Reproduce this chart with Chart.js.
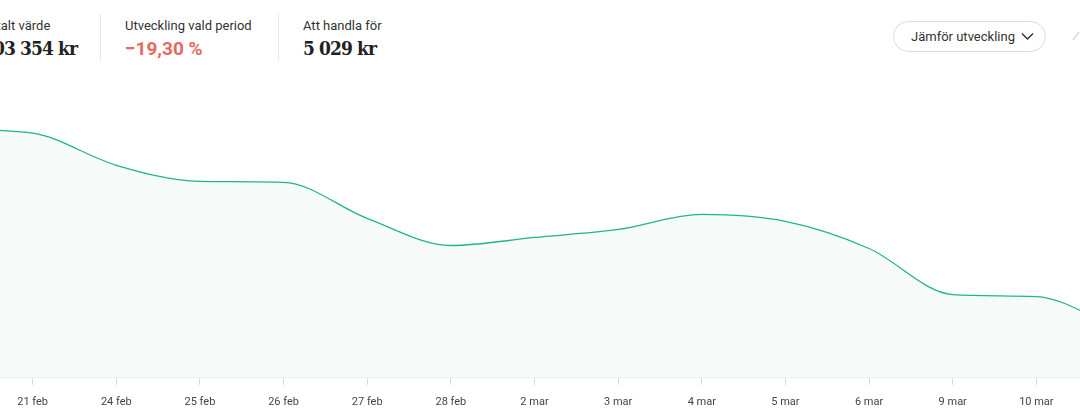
<!DOCTYPE html>
<html>
<head>
<meta charset="utf-8">
<script src="https://cdn.jsdelivr.net/npm/chart.js@4.4.1/dist/chart.umd.min.js"></script>
<style>
  body { margin: 0; width: 1080px; height: 415px; overflow: hidden; background: #fff; font-family: Roboto, sans-serif; position: relative; }
  .stat { position: absolute; top: 18px; }
  .stat .lbl { font-size: 13px; color: #333; line-height: 16px; }
  .stat .val { font-family: "DejaVu Serif Condensed", "DejaVu Serif", serif; font-stretch: condensed; font-weight: bold; font-size: 19px; color: #222; margin-top: 3px; letter-spacing: -0.9px; }
  .stat .neg { color: #e5695e; font-family: Roboto, sans-serif; font-stretch: normal; font-size: 19px; letter-spacing: 0; }
  .sep { position: absolute; top: 14px; width: 1px; height: 46px; background: #e6e6e6; }
  .btn { position: absolute; left: 893px; top: 21px; width: 153px; height: 31px; border: 1px solid #dcdcdc; border-radius: 16px; box-sizing: border-box; font-size: 13px; color: #333; line-height: 29px; padding-left: 17px; }
  .btn svg { position: absolute; right: 11px; top: 10px; }
  .wrap { position: absolute; left: -81px; top: 80px; width: 1231px; height: 340px; }
</style>
</head>
<body>
<div class="stat" style="left:-18px"><div class="lbl">Totalt värde</div><div class="val">103 354 kr</div></div>
<div class="sep" style="left:100px"></div>
<div class="stat" style="left:125px"><div class="lbl">Utveckling vald period</div><div class="val neg">−19,30 %</div></div>
<div class="sep" style="left:278px"></div>
<div class="stat" style="left:303px"><div class="lbl">Att handla för</div><div class="val">5 029 kr</div></div>
<div class="btn">Jämför utveckling
  <svg width="13" height="9" viewBox="0 0 13 9"><path d="M1 1.5 L6.5 7 L12 1.5" fill="none" stroke="#333" stroke-width="1.4"/></svg>
</div>
<svg style="position:absolute;left:1070px;top:30px" width="10" height="12"><path d="M3 10 L9 2" stroke="#ccc" stroke-width="1.2"/></svg>
<div class="wrap"><canvas id="chart"></canvas></div>
<script>
// dagar (handelsdagar) och totalt värde i kr
var dagar = ["20 feb", "21 feb", "24 feb", "25 feb", "26 feb", "27 feb", "28 feb", "2 mar", "3 mar", "4 mar", "5 mar", "6 mar", "9 mar", "10 mar", "11 mar"];
var varden = [128070, 127580, 123620, 121640, 121520, 117070, 113730, 114720, 115710, 117560, 116700, 113360, 107680, 107430, 103354];
var yMin = 97420;
var yMax = 134130;

new Chart(document.getElementById("chart"), {
  type: "line",
  data: {
    labels: dagar,
    datasets: [
      {
        data: varden,
        borderColor: "#22b48b",
        borderWidth: 1.3,
        backgroundColor: "#f6fbfa",
        fill: "start",
        pointRadius: 0,
        cubicInterpolationMode: "monotone",
      },
    ],
  },
  options: {
    responsive: true,
    maintainAspectRatio: false,
    animation: false,
    layout: { padding: { left: 30, right: 30, top: 0, bottom: 0 } },
    plugins: { legend: { display: false }, tooltip: { enabled: false } },
    scales: {
      y: { display: false, min: yMin, max: yMax },
      x: {
        offset: false,
        border: { color: "#e3e3e3" },
        grid: { drawOnChartArea: false, color: "#d8d8d8", tickLength: 7 },
        ticks: {
          autoSkip: false,
          maxRotation: 0,
          padding: 11,
          color: "#444",
          font: { family: "Roboto", size: 11 },
        },
      },
    },
  },
});
</script>
</body>
</html>
